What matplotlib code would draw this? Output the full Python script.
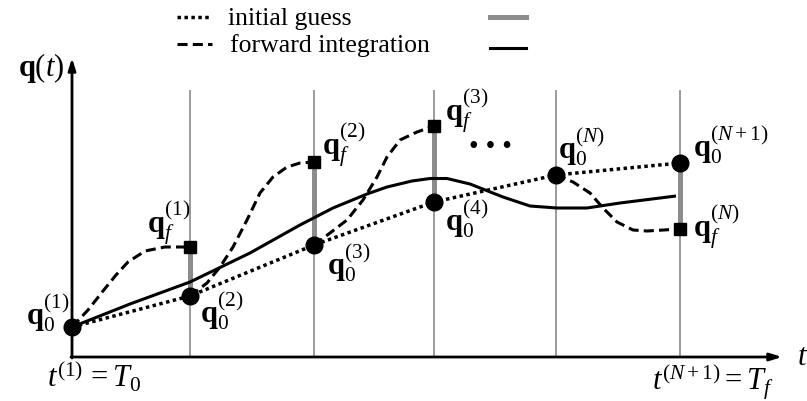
import matplotlib
matplotlib.use("Agg")
import matplotlib.pyplot as plt

plt.rcParams['mathtext.fontset'] = 'custom'
plt.rcParams['mathtext.rm'] = 'Liberation Serif'
plt.rcParams['mathtext.it'] = 'Liberation Serif:italic'
plt.rcParams['mathtext.bf'] = 'Liberation Serif:bold'
plt.rcParams['font.family'] = ['Liberation Serif', 'DejaVu Serif']

# ---------------- data (schematic units) ----------------
t_nodes = [0, 118, 242, 362, 484, 608]
q0_vals = [30, 61, 112, 155, 182, 194]
qf_t = [118, 242, 362, 608]
qf_vals = [110, 195, 231, 128]
q0_at_qf = [61, 112, 155, 194]

true_t = [0, 58, 118, 178, 228, 261, 295, 315, 340, 358, 375, 398, 431, 458, 485, 515, 548, 604]
true_q = [30, 53, 75, 104, 132, 149, 163, 170, 176, 178.5, 178.5, 173, 160, 151, 149, 149, 154, 161]

seg1_t = [0, 16, 31, 44, 56, 73, 93, 118]
seg1_q = [30, 47, 66, 82, 95, 106, 110, 110]
seg2_t = [118, 135, 148, 161, 175, 188, 201, 215, 228, 242]
seg2_q = [61, 74, 90, 110, 137, 164, 180, 190, 194, 195]
seg3_t = [242, 258, 275, 291, 305, 315, 328, 345, 362]
seg3_q = [112, 124, 137, 157, 180, 200, 217, 225, 231]
seg4_t = [484, 501, 518, 531, 545, 561, 575, 608]
seg4_q = [182, 175, 164, 149, 135, 127, 126, 128]

grid_top = 267
t_axis_end = 710
q_axis_end = 299

q0_labels = [r'$\mathbf{q}_0^{(1)}$', r'$\mathbf{q}_0^{(2)}$', r'$\mathbf{q}_0^{(3)}$',
             r'$\mathbf{q}_0^{(4)}$', r'$\mathbf{q}_0^{(N)}$', r'$\mathbf{q}_0^{(N+1)}$']
qf_labels = [r'$\mathbf{q}_f^{(1)}$', r'$\mathbf{q}_f^{(2)}$', r'$\mathbf{q}_f^{(3)}$',
             r'$\mathbf{q}_f^{(N)}$']

# ---------------- figure ----------------
W, H = 807, 401
OX, OY = 72, 357
fig = plt.figure(figsize=(W / 100, H / 100), dpi=100)
ax = fig.add_axes([0, 0, 1, 1])
ax.set_xlim(-OX, W - OX)
ax.set_ylim(OY - H, OY)
ax.axis('off')


def P(x, y):
    """pixel position -> data position (layout helper for text)"""
    return x - OX, OY - y


lw_curve = 2.2
dotted = (0, (1, 1.0))
dashed = (0, (3.3, 1.7))
gray_bar = '#8c8c8c'

# thin vertical lines
ax.vlines(t_nodes[1:], 0, grid_top, color='#808080', lw=1.1, zorder=1)
# gray defect bars
ax.vlines(qf_t, q0_at_qf, qf_vals, color=gray_bar, lw=3.6, zorder=2)

# true solution
ax.plot(true_t, true_q, color='black', lw=lw_curve, solid_capstyle='butt',
        solid_joinstyle='round', zorder=3)
# initial guess
ax.plot(t_nodes, q0_vals, color='black', lw=2.5, linestyle=dotted, zorder=3)
# forward integration
for st, sq in [(seg1_t, seg1_q), (seg2_t, seg2_q), (seg3_t, seg3_q), (seg4_t, seg4_q)]:
    ax.plot(st, sq, color='black', lw=lw_curve, linestyle=dashed, zorder=3)

# markers
ax.plot(t_nodes, q0_vals, 'o', color='black', ms=12, zorder=5, linestyle='none')
ax.plot(qf_t, qf_vals, 's', color='black', ms=8.5, zorder=5, linestyle='none')

# axes with arrows
arr = dict(arrowstyle='-|>,head_length=0.7,head_width=0.22', lw=2.0, color='black',
           shrinkA=0, shrinkB=0)
ax.annotate('', xy=(0, q_axis_end), xytext=(0, -1), arrowprops=arr, zorder=4)
ax.annotate('', xy=(t_axis_end, 0), xytext=(-1, 0), arrowprops=arr, zorder=4)

fs = 22
# node labels (left x, baseline y in pixels)
q0_pos = [(26, 325), (200, 322), (327, 274), (445, 230), (558, 159), (693, 156)]
qf_pos = [(147, 234), (322, 155), (445, 121), (693, 237)]
for lab, (x, y) in zip(q0_labels, q0_pos):
    ax.text(*P(x, y), lab, fontsize=fs, ha='left', va='baseline', zorder=6)
for lab, (x, y) in zip(qf_labels, qf_pos):
    ax.text(*P(x, y), lab, fontsize=fs, ha='left', va='baseline', zorder=6)

ax.text(*P(490, 147), '\u2022 \u2022 \u2022', fontsize=20, ha='center', va='center')

ax.text(*P(18, 76), r'$\mathbf{q}(t)$', fontsize=fs, ha='left', va='baseline')
ax.text(*P(797, 365), r'$t$', fontsize=fs, ha='left', va='baseline')
ax.text(*P(47, 388), r'$t^{(1)}\,=T_0$', fontsize=fs, ha='left', va='baseline')
ax.text(*P(652, 390), r'$t^{(N+1)}=T_f$', fontsize=fs, ha='left', va='baseline')

# legend (drawn manually)
def fig_line(x0, x1, y, **kw):
    ax.plot([x0 - OX, x1 - OX], [OY - y, OY - y], **kw)

fig_line(177, 209, 17, color='black', lw=2.5, linestyle=dotted)
fig_line(177, 212, 44, color='black', lw=lw_curve, linestyle=dashed)
fig_line(490, 526, 17, color=gray_bar, lw=3.6)
fig_line(490, 526, 48, color='black', lw=lw_curve)
ax.text(*P(228, 25), 'initial guess', fontsize=18.5, ha='left', va='baseline')
ax.text(*P(230, 52), 'forward integration', fontsize=18.5, ha='left', va='baseline')

fig.savefig('out.png', dpi=100)
